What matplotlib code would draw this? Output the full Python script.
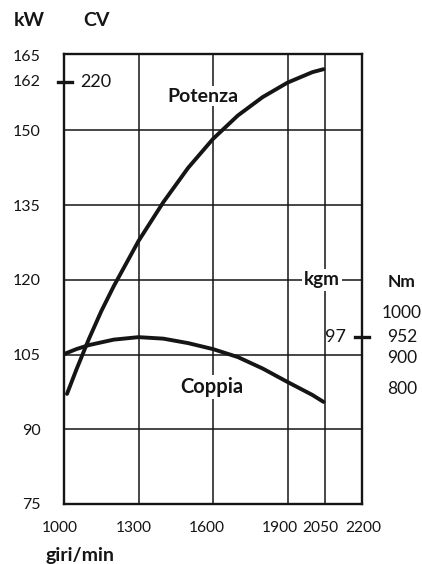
import matplotlib
matplotlib.use("Agg")
import matplotlib.pyplot as plt
from matplotlib.lines import Line2D
from matplotlib.transforms import ScaledTranslation

plt.rcParams['font.family'] = ['Lato', 'DejaVu Sans']

# ---- data ----
rpm_potenza = [1012, 1050, 1100, 1150, 1200, 1300, 1400, 1500, 1600, 1700, 1800, 1900, 2000, 2045]
kw_potenza = [97.1, 102.0, 108.1, 113.7, 118.7, 127.8, 135.6, 142.5, 148.3, 153.0, 156.7, 159.6, 161.7, 162.3]

rpm_coppia = [1000, 1050, 1100, 1200, 1300, 1400, 1500, 1600, 1700, 1800, 1900, 2000, 2045]
val_coppia = [105.1, 106.1, 106.9, 108.0, 108.5, 108.2, 107.3, 106.1, 104.5, 102.2, 99.5, 96.9, 95.5]

x_ticks = [1000, 1300, 1600, 1900, 2050, 2200]
x_tick_labels = ['1000', '1300', '1600', '1900', '2050', '2200']
x_grid = [1300, 1600, 1900, 2050]

kw_tick_pos = [75, 90, 105, 120, 135, 150, 160, 165]
kw_tick_labels = ['75', '90', '105', '120', '135', '150', '162', '165']
kw_grid = [90, 105, 120, 135, 150]

cv_label = '220'
cv_pos = 159.8
kgm_label = '97'
kgm_pos = 108.5
nm_pos = [113.3, 108.5, 104.3, 98.1]
nm_labels = ['1000', '952', '900', '800']

# ---- figure ----
W, H = 422, 564
fig = plt.figure(figsize=(W / 100, H / 100), dpi=100)
fig.patch.set_facecolor('white')
ax = fig.add_axes([64 / W, (H - 504) / H, 298 / W, 450 / H])

ink = '#151515'
for x in x_grid:
    ax.axvline(x, color=ink, lw=1.1, zorder=1)
for y in kw_grid:
    ax.axhline(y, color=ink, lw=1.1, zorder=1)

ax.plot(rpm_potenza, kw_potenza, color=ink, lw=2.8, solid_capstyle='round',
        solid_joinstyle='round', zorder=3)
ax.plot(rpm_coppia, val_coppia, color=ink, lw=2.8, solid_capstyle='round',
        solid_joinstyle='round', zorder=3)

ax.set_xlim(1000, 2200)
ax.set_ylim(75, 165.35)
ax.set_xticks(x_ticks)
ax.set_xticklabels(x_tick_labels)
ax.set_yticks(kw_tick_pos)
ax.set_yticklabels(kw_tick_labels)
ax.tick_params(axis='x', length=0, pad=12, labelsize=11.2, colors=ink)
ax.tick_params(axis='y', length=0, pad=17, labelsize=11.5, colors=ink)
# the printed labels sit slightly left of their grid lines
x_shift_px = [-4, -5, -6, -8, -4, 1]
for lab, dx in zip(ax.get_xticklabels(), x_shift_px):
    lab.set_transform(lab.get_transform() + ScaledTranslation(dx / 100, 0, fig.dpi_scale_trans))
for s in ax.spines.values():
    s.set_linewidth(1.7)
    s.set_color(ink)

# marker CV 220 on the left axis
ax.add_line(Line2D([-0.02, 0.027], [cv_pos, cv_pos], transform=ax.get_yaxis_transform(),
                   color=ink, lw=2.4, clip_on=False, zorder=4))
ax.text(0.054, cv_pos, cv_label, transform=ax.get_yaxis_transform(),
        ha='left', va='center', fontsize=13, color=ink)

# marker 97 kgm on the right axis
ax.add_line(Line2D([0.977, 1.023], [kgm_pos, kgm_pos], transform=ax.get_yaxis_transform(),
                   color=ink, lw=2.4, clip_on=False, zorder=4))
ax.text(0.946, kgm_pos, kgm_label, transform=ax.get_yaxis_transform(),
        ha='right', va='center', fontsize=13, color=ink)

ax.text(0.866, 120, 'kgm', transform=ax.get_yaxis_transform(), ha='center', va='center',
        fontsize=13.5, fontweight='bold', color=ink, zorder=5,
        bbox=dict(boxstyle='square,pad=0.12', fc='white', ec='none'))
ax.text(1.134, 119.6, 'Nm', transform=ax.get_yaxis_transform(), ha='center', va='center',
        fontsize=12.5, fontweight='bold', color=ink, clip_on=False)
for p, lab in zip(nm_pos, nm_labels):
    ax.text(1.134, p, lab, transform=ax.get_yaxis_transform(), ha='center', va='center',
            fontsize=12.5, color=ink, clip_on=False)

ax.text(0.466, 156.9, 'Potenza', transform=ax.get_yaxis_transform(), ha='center', va='center',
        fontsize=14, fontweight='bold', color=ink, zorder=5,
        bbox=dict(boxstyle='square,pad=0.08', fc='white', ec='none'))
ax.text(0.497, 98.5, 'Coppia', transform=ax.get_yaxis_transform(), ha='center', va='center',
        fontsize=14.5, fontweight='bold', color=ink, zorder=5,
        bbox=dict(boxstyle='square,pad=0.08', fc='white', ec='none'))

fig.text(29 / W, 1 - 21 / H, 'kW', ha='center', va='center', fontsize=14,
         fontweight='bold', color=ink)
fig.text(96 / W, 1 - 21 / H, 'CV', ha='center', va='center', fontsize=14,
         fontweight='bold', color=ink)
fig.text(45 / W, 1 - 556 / H, 'giri/min', ha='left', va='center', fontsize=14,
         fontweight='bold', color=ink)

fig.savefig('out.png', dpi=100, facecolor='white')
